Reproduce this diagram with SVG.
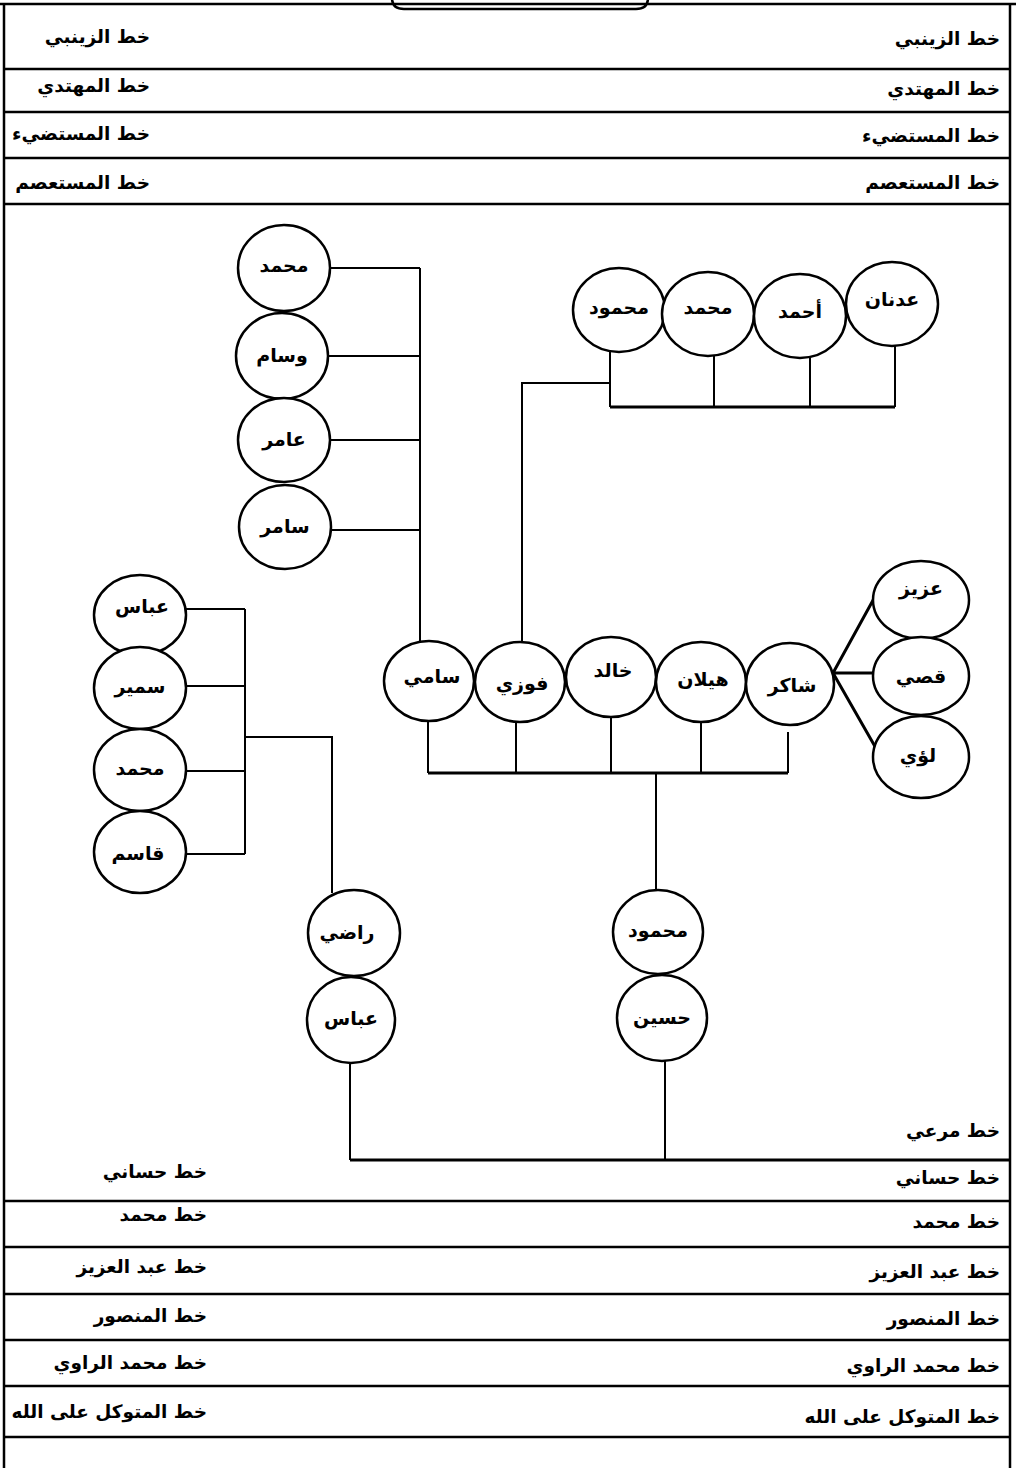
<svg xmlns="http://www.w3.org/2000/svg" width="1016" height="1468" viewBox="0 0 1016 1468">
<style>
.frame{stroke:#000;stroke-width:2.5;fill:none}
.lbl{font-family:"DejaVu Sans",sans-serif;font-weight:bold;font-size:18.5px;fill:#000}
.node ellipse{fill:#fff;stroke:#000;stroke-width:2.5}
.node text{font-family:"DejaVu Sans",sans-serif;font-weight:bold;font-size:19px;fill:#000;text-anchor:middle}
.c{stroke:#000;stroke-width:2;fill:none}
.ct{stroke:#000;stroke-width:3;fill:none}
</style>
<rect width="1016" height="1468" fill="#fff"/>
<g id="frame">
<path class="frame" d="M392,-2 Q392,9 404,9 L636,9 Q648,9 648,-2"/>
<line class="frame" x1="0" y1="4" x2="1016" y2="4"/>
<line class="frame" x1="4" y1="4" x2="4" y2="1468"/>
<line class="frame" x1="1010" y1="4" x2="1010" y2="1468"/>
<line class="frame" x1="4" y1="69" x2="1010" y2="69"/>
<line class="frame" x1="4" y1="112" x2="1010" y2="112"/>
<line class="frame" x1="4" y1="158" x2="1010" y2="158"/>
<line class="frame" x1="4" y1="204" x2="1010" y2="204"/>
<line class="frame" x1="4" y1="1201" x2="1010" y2="1201"/>
<line class="frame" x1="4" y1="1247" x2="1010" y2="1247"/>
<line class="frame" x1="4" y1="1294" x2="1010" y2="1294"/>
<line class="frame" x1="4" y1="1340" x2="1010" y2="1340"/>
<line class="frame" x1="4" y1="1386" x2="1010" y2="1386"/>
<line class="frame" x1="4" y1="1437" x2="1010" y2="1437"/>
</g>
<g id="labels" text-anchor="end">
<text class="lbl" x="1000" y="45">خط الزينبي</text>
<text class="lbl" x="1000" y="95">خط المهتدي</text>
<text class="lbl" x="1000" y="142">خط المستضيء</text>
<text class="lbl" x="1000" y="189">خط المستعصم</text>
<text class="lbl" x="150" y="43">خط الزينبي</text>
<text class="lbl" x="150" y="92">خط المهتدي</text>
<text class="lbl" x="150" y="140">خط المستضيء</text>
<text class="lbl" x="150" y="189">خط المستعصم</text>
<text class="lbl" x="1000" y="1137">خط مرعي</text>
<text class="lbl" x="1000" y="1184">خط حساني</text>
<text class="lbl" x="1000" y="1228">خط محمد</text>
<text class="lbl" x="1000" y="1278">خط عبد العزيز</text>
<text class="lbl" x="1000" y="1325">خط المنصور</text>
<text class="lbl" x="1000" y="1372">خط محمد الراوي</text>
<text class="lbl" x="1000" y="1423">خط المتوكل على الله</text>
<text class="lbl" x="207" y="1178">خط حساني</text>
<text class="lbl" x="207" y="1221">خط محمد</text>
<text class="lbl" x="207" y="1273">خط عبد العزيز</text>
<text class="lbl" x="207" y="1322">خط المنصور</text>
<text class="lbl" x="207" y="1369">خط محمد الراوي</text>
<text class="lbl" x="207" y="1418">خط المتوكل على الله</text>
</g>
<g id="connectors">
<path class="c" d="M420,268 V642 M330,268 H420 M328,356 H420 M330,440 H420 M331,530 H420"/>
<path class="c" d="M610,350 V407 M714,356 V407 M810,358 V407 M895,346 V407 M610,383 H522 V643"/>
<path class="ct" d="M610,407 H895"/>
<path class="c" d="M428,720 V773 M516,722 V773 M611,717 V773 M701,722 V773 M788,732 V773 M656,773 V890"/>
<path class="ct" d="M428,773 H788"/>
<path class="c" d="M186,609 H245 M186,686 H245 M186,771 H245 M186,854 H245 M245,609 V854 M245,737 H332 V893"/>
<path class="ct" d="M833,673 L877,593 M833,673 H875 M833,673 L877,750"/>
<path class="c" d="M350,1063 V1160 M665,1061 V1160"/>
<path class="ct" d="M350,1160 H1010"/>
</g>
<g id="n-muhammad1" class="node"><ellipse cx="284" cy="268" rx="46" ry="43"/><text x="284" y="272">محمد</text></g>
<g id="n-wisam" class="node"><ellipse cx="282" cy="356" rx="46" ry="43"/><text x="282" y="362">وسام</text></g>
<g id="n-amer" class="node"><ellipse cx="284" cy="440" rx="46" ry="42"/><text x="284" y="446">عامر</text></g>
<g id="n-samer" class="node"><ellipse cx="285" cy="527" rx="46" ry="42"/><text x="285" y="533">سامر</text></g>
<g id="n-mahmoud1" class="node"><ellipse cx="619" cy="310" rx="46" ry="42"/><text x="619" y="314">محمود</text></g>
<g id="n-muhammad2" class="node"><ellipse cx="708" cy="314" rx="46" ry="42"/><text x="708" y="314">محمد</text></g>
<g id="n-ahmad" class="node"><ellipse cx="800" cy="316" rx="46" ry="42"/><text x="800" y="318">أحمد</text></g>
<g id="n-adnan" class="node"><ellipse cx="892" cy="304" rx="46" ry="42"/><text x="892" y="306">عدنان</text></g>
<g id="n-sami" class="node"><ellipse cx="429" cy="681" rx="45" ry="40"/><text x="432" y="683">سامي</text></g>
<g id="n-fawzi" class="node"><ellipse cx="520" cy="682" rx="45" ry="40"/><text x="522" y="690">فوزي</text></g>
<g id="n-khaled" class="node"><ellipse cx="611" cy="677" rx="45" ry="40"/><text x="613" y="677">خالد</text></g>
<g id="n-haylan" class="node"><ellipse cx="701" cy="682" rx="45" ry="40"/><text x="703" y="686">هيلان</text></g>
<g id="n-shaker" class="node"><ellipse cx="790" cy="684" rx="44" ry="41"/><text x="792" y="692">شاكر</text></g>
<g id="n-abbas1" class="node"><ellipse cx="140" cy="615" rx="46" ry="40"/><text x="142" y="613">عباس</text></g>
<g id="n-samir" class="node"><ellipse cx="140" cy="688" rx="46" ry="41"/><text x="140" y="693">سمير</text></g>
<g id="n-muhammad3" class="node"><ellipse cx="140" cy="770" rx="46" ry="41"/><text x="140" y="775">محمد</text></g>
<g id="n-qasem" class="node"><ellipse cx="140" cy="852" rx="46" ry="41"/><text x="138" y="860">قاسم</text></g>
<g id="n-aziz" class="node"><ellipse cx="921" cy="600" rx="48" ry="39"/><text x="921" y="595">عزيز</text></g>
<g id="n-qusay" class="node"><ellipse cx="921" cy="676" rx="48" ry="39"/><text x="921" y="683">قصي</text></g>
<g id="n-luay" class="node"><ellipse cx="921" cy="757" rx="48" ry="41"/><text x="918" y="762">لؤي</text></g>
<g id="n-radi" class="node"><ellipse cx="354" cy="933" rx="46" ry="43"/><text x="347" y="939">راضي</text></g>
<g id="n-abbas2" class="node"><ellipse cx="351" cy="1020" rx="44" ry="43"/><text x="351" y="1025">عباس</text></g>
<g id="n-mahmoud2" class="node"><ellipse cx="658" cy="932" rx="45" ry="42"/><text x="658" y="937">محمود</text></g>
<g id="n-hussein" class="node"><ellipse cx="662" cy="1018" rx="45" ry="43"/><text x="662" y="1024">حسين</text></g>
</svg>
